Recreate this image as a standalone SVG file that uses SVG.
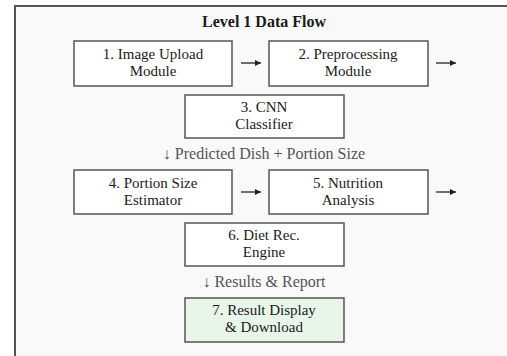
<svg xmlns="http://www.w3.org/2000/svg" width="507" height="356" viewBox="0 0 507 356">
  <defs>
    <marker id="head" viewBox="0 0 6 6" refX="6" refY="3" markerWidth="6" markerHeight="6" markerUnits="userSpaceOnUse" orient="auto">
      <path d="M0,0 L6,3 L0,6 Z" fill="#222"/>
    </marker>
  </defs>
  <style>
    .frame { fill: #f9f9f9; stroke: #555; stroke-width: 2; }
    .box { fill: #ffffff; stroke: #555; stroke-width: 1.5; }
    .box.final { fill: #e8f5e9; }
    text { font-family: 'Liberation Serif', 'DejaVu Serif', serif; }
    .title { font-size: 16px; font-weight: bold; fill: #1a1a1a; text-anchor: middle; }
    .lbl { font-size: 15px; fill: #1a1a1a; text-anchor: middle; }
    .flow { font-size: 16px; fill: #555; text-anchor: middle; }
    .arrow { stroke: #222; stroke-width: 1.3; fill: none; marker-end: url(#head); }
  </style>

  <!-- outer panel, runs past the right and bottom edges -->
  <rect class="frame" x="15" y="6" width="600" height="400"/>

  <text class="title" x="264" y="27">Level 1 Data Flow</text>

  <g id="node-1">
    <rect class="box" x="74" y="41" width="158" height="45"/>
    <text class="lbl" x="153" y="59">1. Image Upload</text>
    <text class="lbl" x="153" y="76">Module</text>
  </g>
  <g id="node-2">
    <rect class="box" x="269" y="41" width="159" height="45"/>
    <text class="lbl" x="348" y="59">2. Preprocessing</text>
    <text class="lbl" x="348" y="76">Module</text>
  </g>
  <g id="node-3">
    <rect class="box" x="185" y="95" width="159" height="43"/>
    <text class="lbl" x="264" y="112">3. CNN</text>
    <text class="lbl" x="264" y="129">Classifier</text>
  </g>
  <g id="node-4">
    <rect class="box" x="74" y="170" width="158" height="44"/>
    <text class="lbl" x="153" y="188">4. Portion Size</text>
    <text class="lbl" x="153" y="205">Estimator</text>
  </g>
  <g id="node-5">
    <rect class="box" x="269" y="170" width="159" height="44"/>
    <text class="lbl" x="348" y="188">5. Nutrition</text>
    <text class="lbl" x="348" y="205">Analysis</text>
  </g>
  <g id="node-6">
    <rect class="box" x="185" y="223" width="159" height="43"/>
    <text class="lbl" x="264" y="240">6. Diet Rec.</text>
    <text class="lbl" x="264" y="257">Engine</text>
  </g>
  <g id="node-7">
    <rect class="box final" x="185" y="298" width="159" height="44"/>
    <text class="lbl" x="264" y="315">7. Result Display</text>
    <text class="lbl" x="264" y="332">&amp; Download</text>
  </g>

  <g id="connectors">
    <path class="arrow" d="M241,63 H261"/>
    <path class="arrow" d="M436,63 H456"/>
    <path class="arrow" d="M241,192 H261"/>
    <path class="arrow" d="M436,192 H456"/>
    <text class="flow" x="264" y="159">↓ Predicted Dish + Portion Size</text>
    <text class="flow" x="264" y="287">↓ Results &amp; Report</text>
  </g>
</svg>
